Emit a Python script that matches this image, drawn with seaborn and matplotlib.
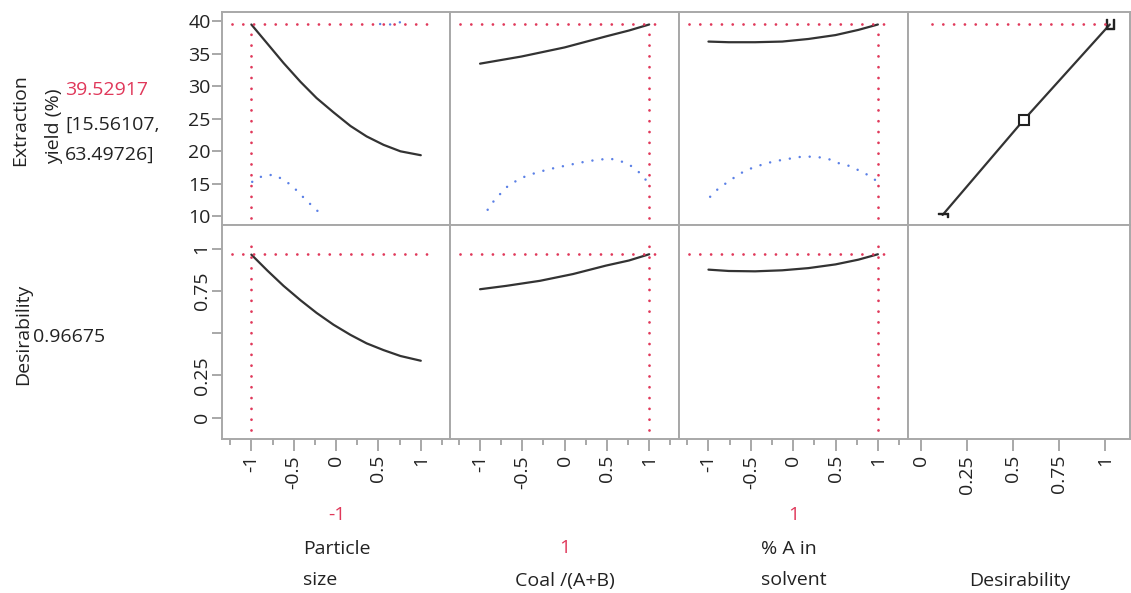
import matplotlib
matplotlib.use("Agg")
import matplotlib.pyplot as plt
import seaborn as sns

# current factor settings and predicted response
factor_names = ["Particle\nsize", "Coal /(A+B)", "% A in\nsolvent"]
factor_now = [-1, 1, 1]
pred_yield = 39.52917
yield_ci = [15.56107, 63.49726]
pred_desir = 0.96675

# Particle size profile
ps_x = [-1.0, -0.78, -0.62, -0.42, -0.23, -0.03, 0.17, 0.36, 0.56, 0.76, 1.0]
ps_yield = [39.53, 36.1, 33.6, 30.7, 28.2, 26.0, 23.9, 22.3, 21.0, 20.0, 19.4]
ps_lo_x = [-0.99, -0.87, -0.74, -0.63, -0.52, -0.43, -0.34, -0.24, -0.16]
ps_lo = [15.3, 16.2, 16.4, 15.7, 14.7, 13.5, 12.3, 11.1, 10.0]
ps_hi_x = [0.52, 0.62, 0.72, 0.80]
ps_hi = [39.6, 39.5, 39.7, 40.1]
ps_d_x = [-1.0, -0.81, -0.62, -0.42, -0.23, -0.03, 0.17, 0.36, 0.56, 0.76, 1.0]
ps_d = [0.965, 0.87, 0.78, 0.695, 0.62, 0.55, 0.49, 0.44, 0.40, 0.365, 0.337]

# Coal /(A+B) profile
coal_x = [-1.0, -0.51, 0.0, 0.49, 0.76, 1.0]
coal_yield = [33.5, 34.6, 36.0, 37.7, 38.6, 39.53]
coal_lo_x = [-0.91, -0.84, -0.75, -0.66, -0.55, -0.44, -0.2, 0.05, 0.28, 0.53,
             0.66, 0.77, 0.87, 0.96, 1.0]
coal_lo = [11.0, 12.3, 13.6, 14.8, 15.6, 16.3, 17.2, 17.9, 18.5, 18.9,
           18.5, 17.9, 16.9, 15.6, 15.2]
coal_d_x = [-1.0, -0.69, -0.29, 0.10, 0.49, 0.76, 1.0]
coal_d = [0.76, 0.78, 0.81, 0.85, 0.90, 0.93, 0.967]

# % A in solvent profile
sol_x = [-1.0, -0.76, -0.45, -0.13, 0.18, 0.5, 0.77, 1.0]
sol_yield = [36.9, 36.8, 36.8, 36.9, 37.3, 37.9, 38.7, 39.53]
sol_lo_x = [-0.98, -0.88, -0.78, -0.68, -0.57, -0.45, -0.33, -0.21, -0.07, 0.05,
            0.16, 0.3, 0.42, 0.53, 0.65, 0.77, 0.89, 1.0]
sol_lo = [13.0, 14.3, 15.2, 16.1, 17.0, 17.6, 18.1, 18.5, 18.8, 19.1,
          19.2, 19.1, 18.8, 18.2, 17.8, 17.1, 16.3, 15.3]
sol_d_x = [-1.0, -0.76, -0.45, -0.13, 0.18, 0.5, 0.77, 1.0]
sol_d = [0.876, 0.868, 0.866, 0.872, 0.885, 0.907, 0.935, 0.967]

# desirability function of the response
dfun_x = [0.116, 0.557, 1.027]
dfun_y = [10.2, 24.8, 39.53]

sns.set_theme(style="white")
plt.rcParams["font.family"] = ["Open Sans", "DejaVu Sans"]
plt.rcParams["axes.unicode_minus"] = False

RED = "#e0385a"
BLUE = "#5b80e6"
GREY = "#a8a8a8"
TXT = "#222222"
dots_red = (0, (0.01, 3.88))
dots_blue = (0, (0.01, 4.0))

W, H = 1131, 593
fig, axes = plt.subplots(
    2, 4, figsize=(W / 100, H / 100), dpi=100,
    gridspec_kw=dict(width_ratios=[229, 228.6, 229, 222.7], wspace=0, hspace=0,
                     left=221.7 / W, right=1130 / W, top=1 - 11.7 / H, bottom=1 - 439 / H))

ylim_top = (8.6, 41.5)
ylim_bot = (-0.126, 1.138)
xlim_f = (-1.35, 1.35)
xlim_d = (-0.075, 1.137)

profiles = [
    (ps_x, ps_yield, [(ps_lo_x, ps_lo), (ps_hi_x, ps_hi)], ps_d_x, ps_d),
    (coal_x, coal_yield, [(coal_lo_x, coal_lo)], coal_d_x, coal_d),
    (sol_x, sol_yield, [(sol_lo_x, sol_lo)], sol_d_x, sol_d),
]

for ax in axes.flat:
    for s in ax.spines.values():
        s.set_color(GREY)
        s.set_linewidth(1.4)
    ax.set_xticks([])
    ax.set_yticks([])
    ax.set_xlabel("")
    ax.set_ylabel("")

def frac(v, lim):
    return (v - lim[0]) / (lim[1] - lim[0])

for i, (px, py, bands, dx, dy) in enumerate(profiles):
    at, ab = axes[0, i], axes[1, i]
    at.set_xlim(xlim_f)
    ab.set_xlim(xlim_f)
    at.set_ylim(ylim_top)
    ab.set_ylim(ylim_bot)

    for bx, by in bands:
        sns.lineplot(x=bx, y=by, ax=at, color=BLUE, lw=1.8, linestyle=dots_blue,
                     dash_capstyle="round", sort=False, estimator=None)
    sns.lineplot(x=px, y=py, ax=at, color="#333333", lw=1.6, sort=False, estimator=None)
    sns.lineplot(x=dx, y=dy, ax=ab, color="#333333", lw=1.6, sort=False, estimator=None)

    # crosshairs at current setting
    at.axhline(pred_yield, xmin=0.044, xmax=0.934, color=RED, lw=2,
               linestyle=dots_red, dash_capstyle="round")
    at.axvline(factor_now[i], ymin=0.035, ymax=frac(pred_yield, ylim_top), color=RED, lw=2,
               linestyle=dots_red, dash_capstyle="round")
    ab.axhline(pred_desir, xmin=0.044, xmax=0.934, color=RED, lw=2,
               linestyle=dots_red, dash_capstyle="round")
    ab.axvline(factor_now[i], ymin=0.044, ymax=0.938, color=RED, lw=2,
               linestyle=dots_red, dash_capstyle="round")

    ab.set_xticks([-1, -0.5, 0, 0.5, 1])
    ab.set_xticklabels(["-1", "-0.5", "0", "0.5", "1"])
    ab.set_xticks([-1.25, -0.75, -0.25, 0.25, 0.75, 1.25], minor=True)

# desirability function panel
a4, b4 = axes[0, 3], axes[1, 3]
a4.set_xlim(xlim_d)
a4.set_ylim(ylim_top)
b4.set_xlim(xlim_d)
b4.set_ylim(ylim_bot)
sns.lineplot(x=dfun_x, y=dfun_y, ax=a4, color="#333333", lw=1.6, sort=False, estimator=None)
a4.plot(dfun_x[1], dfun_y[1], marker="s", ms=6.5, mfc="white", mec="#222222", mew=1.5)
a4.plot(dfun_x[0], dfun_y[0], marker=r"$\neg$", ms=7, color="#222222")
a4.plot(dfun_x[2], dfun_y[2], marker=r"$\sqcup$", ms=7, color="#222222")
a4.axhline(pred_yield, xmin=0.111, xmax=frac(dfun_x[2], xlim_d), color=RED, lw=2,
           linestyle=dots_red, dash_capstyle="round")
b4.set_xticks([0, 0.25, 0.5, 0.75, 1])
b4.set_xticklabels(["0", "0.25", "0.5", "0.75", "1"])

# ticks
for ax in axes[1]:
    ax.tick_params(axis="x", which="major", direction="out", length=8.5, width=1.2,
                   color="#9a9a9a", labelsize=14, labelcolor=TXT, labelrotation=90, pad=3,
                   bottom=True)
    ax.tick_params(axis="x", which="minor", direction="out", length=4.3, width=1.2,
                   color="#9a9a9a", bottom=True)

axes[0, 0].set_yticks([10, 15, 20, 25, 30, 35, 40])
axes[0, 0].set_yticklabels(["10", "15", "20", "25", "30", "35", "40"])
axes[0, 0].tick_params(axis="y", direction="out", length=7, width=1.2, color="#9a9a9a",
                       labelsize=14, labelcolor=TXT, pad=1, left=True)
axes[1, 0].set_yticks([0, 0.25, 0.5, 0.75, 1])
axes[1, 0].set_yticklabels(["0", "0.25", "", "0.75", "1"])
axes[1, 0].tick_params(axis="y", direction="out", length=7, width=1.2, color="#9a9a9a",
                       labelsize=14, labelcolor=TXT, pad=1, left=True, labelrotation=90)
for t in axes[1, 0].get_yticklabels():
    t.set_va("center")

def ftext(x, y, s, **kw):
    kw.setdefault("fontsize", 14)
    kw.setdefault("color", TXT)
    fig.text(x / W, 1 - y / H, s, **kw)

# left response labels
ftext(20.5, 120, "Extraction", rotation=90, ha="center", va="center")
ftext(54, 126, "yield (%)", rotation=90, ha="center", va="center")
ftext(65, 90, f"{pred_yield:.5f}", color=RED, ha="left", va="center")
ftext(65, 125, f"[{yield_ci[0]:.5f},", ha="left", va="center")
ftext(65, 155, f"{yield_ci[1]:.5f}]", ha="left", va="center")
ftext(23, 334, "Desirability", rotation=90, ha="center", va="center")
ftext(33, 337, f"{pred_desir:.5f}", ha="left", va="center")

# factor labels below the panels
centers = [336.5, 565, 794]
for c, name, val in zip(centers, factor_names, factor_now):
    n_lines = name.count("\n") + 1
    ftext(c, 581 - 33 * n_lines, f"{val:d}", color=RED, ha="center", va="center")
    ftext(c, 581 - 16.5 * (n_lines - 1), name, ha="center", va="center",
          multialignment="left", linespacing=1.95)
ftext(1019.5, 581, "Desirability", ha="center", va="center")

fig.savefig("out.png", dpi=100)
